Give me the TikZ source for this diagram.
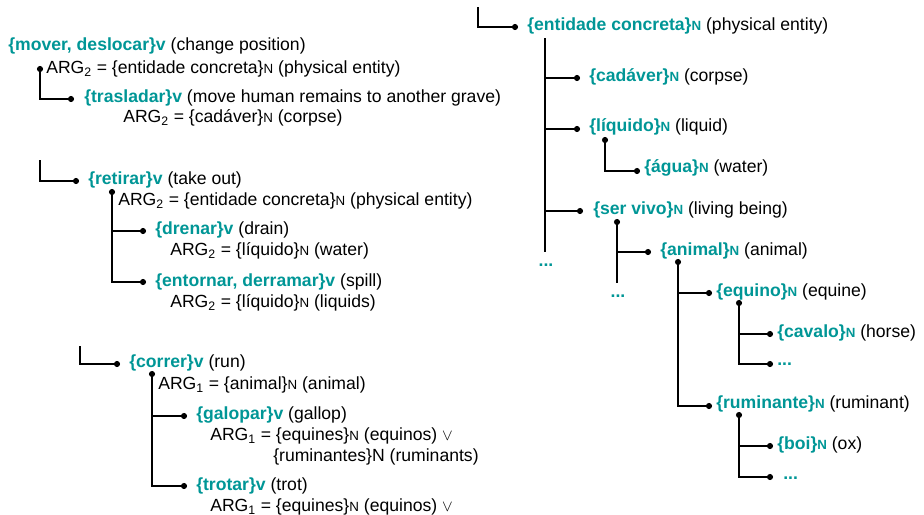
\documentclass[tikz,border=0pt]{standalone}
\usepackage{fontspec}
\setmainfont{Liberation Sans}
\usetikzlibrary{calc}

\definecolor{synteal}{RGB}{0,150,150}

\newcommand{\smallN}{{\fontsize{10}{10}\selectfont N}}
\newcommand{\vsyn}[1]{\textcolor{synteal}{\textbf{\{#1\}v}}}
\newcommand{\nsyn}[1]{\textcolor{synteal}{\textbf{\{#1\}\smallN}}}
\newcommand{\more}{\textcolor{synteal}{\textbf{...}}}

\begin{document}
\begin{tikzpicture}[x=0.75pt, y=-0.75pt,
  lbl/.style={anchor=west, inner sep=0pt, font=\fontsize{13.2}{16}\selectfont},
  dot/.style={circle, fill, inner sep=0pt, minimum size=4.6pt},
  link/.style={line width=1.2pt}]

\useasboundingbox (0,0) rectangle (924,514);
\clip (0,0) rectangle (924,514);

%% Verbs %%
% mover, deslocar %
\node[lbl] (mover) at (8,46) {\vsyn{mover, deslocar} (change position)};
\node[dot] (d1) at (40,69) {};
\node[lbl] (mover-arg) at (46,69) {ARG\textsubscript{2} = \{entidade concreta\}\smallN\ (physical entity)};
\node[dot] (d2) at (71,99) {};
\node[lbl] (trasladar) at (84,98) {\vsyn{trasladar} (move human remains to another grave)};
\node[lbl] (trasladar-arg) at (123,118) {ARG\textsubscript{2} = \{cadáver\}\smallN\ (corpse)};

\draw[link] (d1.center) |- (d2.center);

% retirar %
\coordinate (r0) at (40,160);
\node[dot] (d3) at (76,181) {};
\node[lbl] (retirar) at (88,180) {\vsyn{retirar} (take out)};
\node[dot] (d4) at (112,192) {};
\node[lbl] (retirar-arg) at (118,201) {ARG\textsubscript{2} = \{entidade concreta\}\smallN\ (physical entity)};
\node[dot] (d5) at (143,231) {};
\node[lbl] (drenar) at (155,230) {\vsyn{drenar} (drain)};
\node[lbl] (drenar-arg) at (170,251) {ARG\textsubscript{2} = \{líquido\}\smallN\ (water)};
\node[dot] (d6) at (143,282) {};
\node[lbl] (entornar) at (155,282) {\vsyn{entornar, derramar} (spill)};
\node[lbl] (entornar-arg) at (170,303) {ARG\textsubscript{2} = \{líquido\}\smallN\ (liquids)};

\draw[link] (r0) |- (d3.center);
\draw[link] (d4.center) |- (d6.center);
\draw[link] (d4.center |- d5.center) -- (d5.center);

% correr %
\coordinate (c0) at (80,346);
\node[dot] (d7) at (117,364) {};
\node[lbl] (correr) at (129,363) {\vsyn{correr} (run)};
\node[dot] (d8) at (152,374) {};
\node[lbl] (correr-arg) at (158,385) {ARG\textsubscript{1} = \{animal\}\smallN\ (animal)};
\node[dot] (d9) at (184,416) {};
\node[lbl] (galopar) at (196,415) {\vsyn{galopar} (gallop)};
\node[lbl] (galopar-arg) at (210,436) {ARG\textsubscript{1} = \{equines\}\smallN\ (equinos) $\vee$};
\node[lbl] (galopar-alt) at (273,457) {\{ruminantes\}N (ruminants)};
\node[dot] (d10) at (184,486) {};
\node[lbl] (trotar) at (196,486) {\vsyn{trotar} (trot)};
\node[lbl] (trotar-arg) at (210,507) {ARG\textsubscript{1} = \{equines\}\smallN\ (equinos) $\vee$};

\draw[link] (c0) |- (d7.center);
\draw[link] (d8.center) |- (d10.center);
\draw[link] (d8.center |- d9.center) -- (d9.center);

%% Nouns %%
% entidade concreta %
\coordinate (e0) at (478,7);
\node[dot] (e1) at (515,27) {};
\node[lbl] (entidade) at (527,26) {\nsyn{entidade concreta} (physical entity)};
\coordinate (e-top) at (545,38);
\coordinate (e-end) at (545,252);
\node[lbl, anchor=center] (e-more) at (546,265) {\more};

\node[dot] (e2) at (577,78) {};
\node[lbl] (cadaver) at (589,77) {\nsyn{cadáver} (corpse)};
\node[dot] (e3) at (577,129) {};
\node[lbl] (liquido) at (589,127) {\nsyn{líquido} (liquid)};
\node[dot] (e4) at (605,140) {};
\node[dot] (e5) at (637,171) {};
\node[lbl] (agua) at (644,168) {\nsyn{água} (water)};
\node[dot] (e6) at (580,211) {};
\node[lbl] (servivo) at (593,210) {\nsyn{ser vivo} (living being)};

\draw[link] (e0) |- (e1.center);
\draw[link] (e-top) -- (e-end);
\draw[link] (e-top |- e2.center) -- (e2.center);
\draw[link] (e-top |- e3.center) -- (e3.center);
\draw[link] (e-top |- e6.center) -- (e6.center);
\draw[link] (e4.center) |- (e5.center);

% ser vivo %
\node[dot] (e7) at (617,222) {};
\coordinate (e7-end) at (617,283);
\node[lbl, anchor=center] (e7-more) at (618,296) {\more};
\node[dot] (e8) at (648,252) {};
\node[lbl] (animal) at (660,251) {\nsyn{animal} (animal)};

\draw[link] (e7.center) -- (e7-end);
\draw[link] (e7.center |- e8.center) -- (e8.center);

% animal %
\node[dot] (e9) at (678,262) {};
\node[dot] (e10) at (709,293) {};
\node[lbl] (equino) at (716,292) {\nsyn{equino} (equine)};
\node[dot] (e11) at (739,303) {};
\node[dot] (e12) at (770,334) {};
\node[lbl] (cavalo) at (777,333) {\nsyn{cavalo} (horse)};
\node[dot] (e13) at (770,364) {};
\node[lbl] (e13-more) at (777,364) {\more};

\node[dot] (e14) at (709,406) {};
\node[lbl] (ruminante) at (716,404) {\nsyn{ruminante} (ruminant)};
\node[dot] (e15) at (739,415) {};
\node[dot] (e16) at (770,446) {};
\node[lbl] (boi) at (777,445) {\nsyn{boi} (ox)};
\node[dot] (e17) at (770,477) {};
\node[lbl] (e17-more) at (783,478) {\more};

\draw[link] (e9.center) |- (e14.center);
\draw[link] (e9.center |- e10.center) -- (e10.center);
\draw[link] (e11.center) |- (e13.center);
\draw[link] (e11.center |- e12.center) -- (e12.center);
\draw[link] (e15.center) |- (e17.center);
\draw[link] (e15.center |- e16.center) -- (e16.center);

\end{tikzpicture}
\end{document}
